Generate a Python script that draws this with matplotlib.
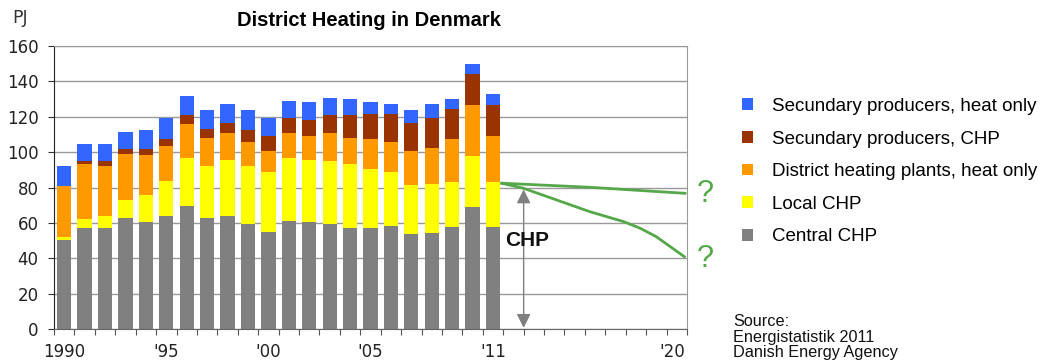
import matplotlib
matplotlib.use('Agg')
import matplotlib.pyplot as plt
import numpy as np

# data (PJ)
years = list(range(1990, 2012))
central_chp = [50.5, 57.4, 57.1, 62.7, 60.5, 64.0, 69.9, 62.7, 64.0, 59.3, 55.2,
               61.2, 60.5, 59.3, 57.4, 57.4, 58.6, 53.7, 54.2, 57.6, 69.3, 57.6]
local_chp = [1.9, 4.9, 7.1, 10.6, 15.6, 19.8, 27.1, 29.6, 31.7, 33.0, 33.7,
             35.8, 35.2, 35.8, 36.0, 33.2, 30.3, 27.8, 27.7, 25.5, 28.3, 25.5]
dh_heat_only = [28.8, 31.3, 28.3, 25.9, 22.6, 20.0, 19.0, 15.6, 15.0, 13.7, 11.9,
                13.7, 13.2, 15.6, 14.5, 16.7, 17.1, 19.4, 20.7, 24.2, 29.1, 25.8]
sec_chp = [0.0, 1.5, 2.6, 2.7, 3.2, 3.9, 4.9, 5.1, 5.7, 6.6, 8.4,
           8.5, 9.4, 10.4, 13.2, 14.2, 15.7, 15.5, 16.6, 17.0, 17.4, 17.5]
sec_heat_only = [11.1, 9.8, 9.8, 9.4, 10.9, 11.9, 11.1, 10.7, 10.9, 11.1, 10.4,
                 9.8, 10.1, 9.8, 9.0, 7.1, 5.6, 7.5, 8.1, 5.8, 5.8, 6.4]

series_names = ['Central CHP', 'Local CHP', 'District heating plants, heat only',
                'Secundary producers, CHP', 'Secundary producers, heat only']
series_colors = ['#808080', '#ffff00', '#ff9900', '#993300', '#3366ff']

# scenario lines after 2011
high_x = [2011.45, 2015.75, 2020.4]
high_y = [82.5, 80.2, 76.8]
low_x = [2011.42, 2012.48, 2014.1, 2015.75, 2017.4, 2018.2, 2019.0, 2020.37]
low_y = [82.5, 79.7, 73.1, 66.4, 60.8, 57.1, 52.3, 41.0]

xtick_pos = [1990, 1995, 2000, 2005, 2011, 2019.8]
xtick_labels = ['1990', "'95", "'00", "'05", "'11", "'20"]

green = '#55a84a'

fig = plt.figure(figsize=(10.45, 3.62), dpi=100)
ax = fig.add_axes([54 / 1045, 1 - 329.3 / 362, 633 / 1045, 283.3 / 362])

bottom = np.zeros(len(years))
handles = []
for vals, name, col in zip([central_chp, local_chp, dh_heat_only, sec_chp, sec_heat_only],
                           series_names, series_colors):
    b = ax.bar(years, vals, width=0.7, bottom=bottom, color=col, label=name, zorder=2)
    handles.append(b)
    bottom += np.array(vals)

ax.plot(high_x, high_y, color=green, lw=2, zorder=3)
ax.plot(low_x, low_y, color=green, lw=2, zorder=3)

# CHP arrow
ax.annotate('', xy=(2012.5, 79), xytext=(2012.5, 0.8),
            arrowprops=dict(arrowstyle='<|-|>', color='#808080', lw=1,
                            mutation_scale=21, shrinkA=0, shrinkB=0), zorder=4)
ax.text(2012.65, 50, 'CHP', fontsize=15, fontweight='bold', family='Liberation Sans',
        ha='center', va='center', color='#111111', zorder=5)

ax.set_xlim(1989.5, 2020.5)
ax.set_ylim(0, 160)
ax.set_yticks(range(0, 161, 20))
ax.yaxis.grid(True, color='#9a9a9a', lw=1)
ax.set_axisbelow(True)

ax.set_xticks(np.arange(1989.5, 2020.6, 1))
ax.set_xticklabels([])
ax.set_xticks(xtick_pos, minor=True)
ax.set_xticklabels(xtick_labels, minor=True)
ax.tick_params(axis='x', which='major', direction='out', length=4, color='#555555')
ax.tick_params(axis='x', which='minor', length=0, pad=10, labelsize=12, labelcolor='#222222')
ax.tick_params(axis='y', direction='out', length=4, pad=7, labelsize=12,
               labelcolor='#222222', color='#333333')

ax.spines['left'].set_color('#222222')
ax.spines['bottom'].set_color('#666666')
ax.spines['right'].set_color('#9a9a9a')
ax.spines['top'].set_color('#9a9a9a')

fig.text(369 / 1045, 1 - 20 / 362, 'District Heating in Denmark', fontsize=14.5,
         fontweight='bold', family='Liberation Sans', ha='center', va='center')
fig.text(12 / 1045, 1 - 18 / 362, 'PJ', fontsize=12.5, color='#333333', ha='left', va='center')

for yq in [194, 259]:
    fig.text(705 / 1045, 1 - yq / 362, '?', fontsize=22, color=green,
             family='Liberation Sans', ha='center', va='center')

fig.legend(handles[::-1], series_names[::-1], loc='upper left',
           bbox_to_anchor=(742 / 1045, 1 - 98 / 362), frameon=False,
           prop={'family': 'Liberation Sans', 'size': 13.5},
           handlelength=0.6, handleheight=0.6, handletextpad=1.0,
           labelspacing=0.83, borderpad=0, borderaxespad=0)

fig.text(733 / 1045, 1 - 314 / 362, 'Source:\nEnergistatistik 2011\nDanish Energy Agency',
         fontsize=11.7, family='Liberation Sans', color='#111111', ha='left', va='top',
         linespacing=1.05)

plt.savefig('out.png', dpi=100)
plt.close('all')
